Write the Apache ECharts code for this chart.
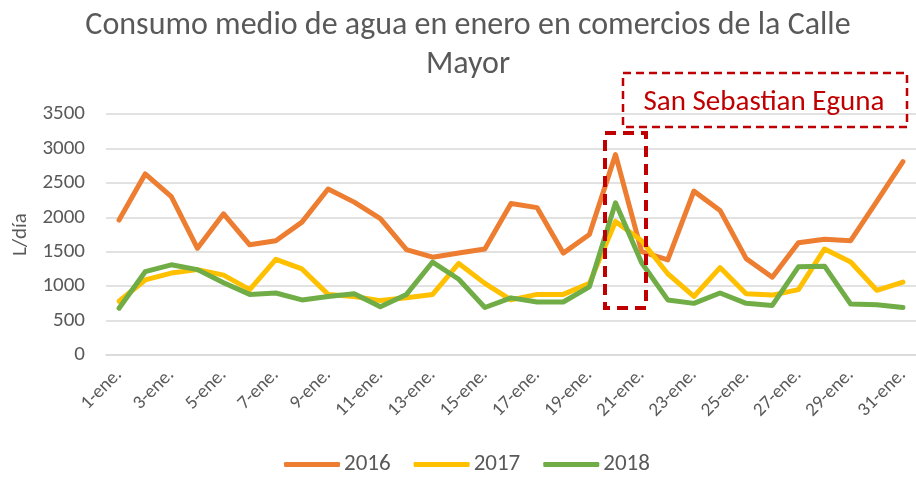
<!DOCTYPE html>
<html><head><meta charset="utf-8">
<script src="https://cdn.jsdelivr.net/npm/echarts@6/dist/echarts.min.js"></script>
<style>html,body{margin:0;padding:0;background:#fff}#c{width:916px;height:483px}</style>
</head><body><div id="c"></div>
<script>
var categories = [];
for (var d = 1; d <= 31; d++) categories.push(d + '-ene.');
var s2016 = [1960,2630,2300,1550,2050,1600,1660,1930,2410,2220,1980,1530,1420,1480,1540,2200,2140,1480,1750,2910,1500,1380,2380,2100,1400,1130,1630,1680,1660,2230,2810];
var s2017 = [780,1090,1190,1240,1160,950,1390,1250,880,850,790,830,880,1330,1040,800,880,880,1040,1940,1660,1180,850,1270,890,870,950,1540,1350,940,1060];
var s2018 = [680,1210,1310,1240,1050,880,900,800,850,890,700,880,1350,1100,690,830,770,770,990,2210,1340,800,750,900,750,720,1280,1290,740,730,690];
var yTicks = {min:0, max:3500, interval:500};
var font = 'Carlito, Calibri, "Open Sans", "Liberation Sans", sans-serif';
var chart = echarts.init(document.getElementById('c'));
function mk(name, data, color){
  return {name:name, type:'line', data:data, symbol:'none', smooth:false,
    lineStyle:{width:5, color:color, cap:'round', join:'round'}, itemStyle:{color:color}};
}
chart.setOption({
  animation:false,
  title:{text:'Consumo medio de agua en enero en comercios de la Calle\nMayor', left:463, textAlign:'center', top:1,
    textStyle:{fontFamily:font, fontSize:32, fontWeight:'normal', color:'#595959', lineHeight:39}},
  legend:{bottom:2, left:279, itemWidth:56, itemHeight:5, itemGap:23, icon:'roundRect',
    textStyle:{fontFamily:font, fontSize:23, color:'#595959', padding:[0,0,0,-1]},
    data:['2016','2017','2018']},
  grid:{left:106, top:114, width:817, height:241, containLabel:false},
  xAxis:{type:'category', data:categories, boundaryGap:true,
    axisLine:{show:true, lineStyle:{color:'#D9D9D9', width:1.5}}, axisTick:{show:false},
    axisLabel:{interval:1, rotate:45, fontFamily:font, fontSize:19, color:'#595959', margin:17}},
  yAxis:{type:'value', min:yTicks.min, max:yTicks.max, interval:yTicks.interval,
    name:'L/día', nameLocation:'middle', nameGap:73, nameRotate:90,
    nameTextStyle:{fontFamily:font, fontSize:21, color:'#595959'},
    axisLine:{show:false}, axisTick:{show:false},
    axisLabel:{fontFamily:font, fontSize:21, color:'#595959', margin:21, formatter:function(v){return String(v);}},
    splitLine:{lineStyle:{color:'#D9D9D9', width:1.5}}},
  series:[mk('2016', s2016, '#ED7D31'), mk('2017', s2017, '#FFC000'), mk('2018', s2018, '#70AD47')],
  graphic:[
    {type:'rect', z:10, shape:{x:605, y:133, width:41, height:175},
      style:{fill:'none', stroke:'#C00000', lineWidth:4, lineDash:[11,7]}},
    {type:'rect', z:10, shape:{x:623, y:73, width:284, height:54},
      style:{fill:'none', stroke:'#C00000', lineWidth:2.5, lineDash:[8,5]}},
    {type:'text', x:764, y:103, z:11,
      style:{text:'San Sebastian Eguna', fill:'#C00000', font:'29px ' + font, align:'center', verticalAlign:'middle'}}
  ]
});
</script></body></html>
